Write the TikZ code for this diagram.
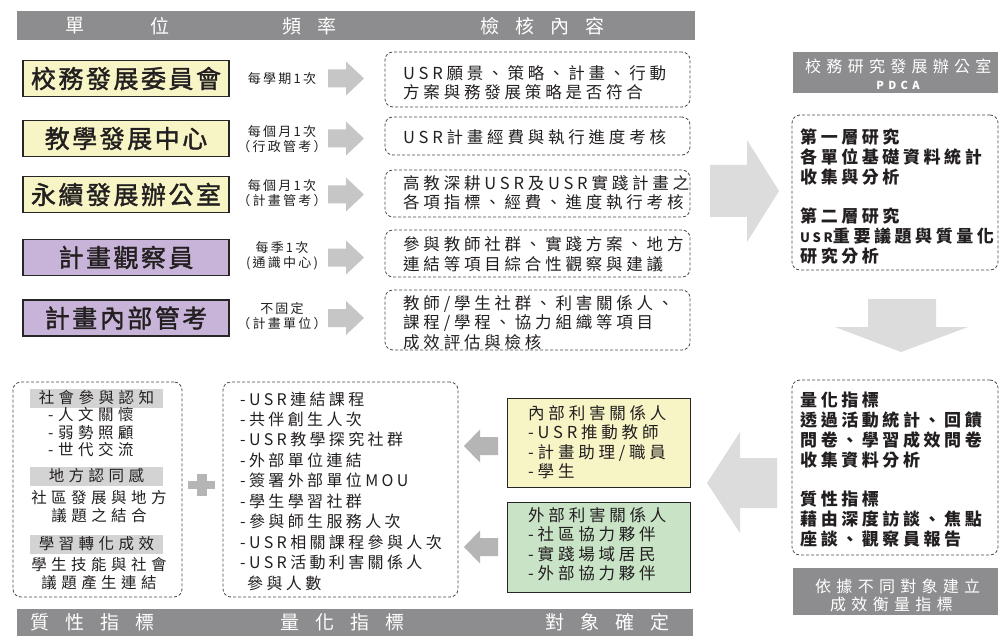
\documentclass[tikz,border=0pt]{standalone}
\usepackage{fontspec}
\setmainfont{Noto Sans CJK TC}
\newfontfamily\fbody[LetterSpace=23]{Noto Sans CJK TC}
\newfontfamily\fstake[LetterSpace=23]{Noto Sans CJK TC}
\newfontfamily\fitem[LetterSpace=21]{Noto Sans CJK TC}
\newfontfamily\ftitle[LetterSpace=10,FakeBold=1.5]{Noto Sans CJK TC}
\newfontfamily\fhead[LetterSpace=85]{Noto Sans CJK TC}
\newfontfamily\ffreq[LetterSpace=17]{Noto Sans CJK TC}
\newfontfamily\fpdca[LetterSpace=40]{Noto Sans CJK TC}
\newfontfamily\fsmall[LetterSpace=29]{Noto Sans CJK TC}
\newfontfamily\fright[LetterSpace=21]{Noto Sans CJK TC}
\newfontfamily\fwhite[LetterSpace=33]{Noto Sans CJK TC}
\definecolor{barg}{HTML}{8D8D8F}
\definecolor{lblg}{HTML}{D3D3D4}
\definecolor{arrl}{HTML}{DCDCDD}
\definecolor{arrm}{HTML}{C6C6C7}
\definecolor{arrd}{HTML}{B5B5B6}
\definecolor{yel}{HTML}{F7F5C6}
\definecolor{pur}{HTML}{C7B4D8}
\definecolor{grn}{HTML}{C8E3C6}
\definecolor{txt}{HTML}{231F20}
\definecolor{dash}{HTML}{4A4A4A}
\begin{document}
\begin{tikzpicture}[x=1pt,y=-1pt,
  bar/.style={fill=barg, draw=none, inner sep=0, anchor=north west},
  hd/.style={text=white, inner sep=0, anchor=west, font=\fontsize{19}{19}\fhead},
  ttl/.style={draw=black!85, line width=1.1pt, minimum width=206, minimum height=36, inner sep=0, text=txt, font=\fontsize{25}{25}\ftitle},
  freq/.style={align=center, inner sep=0, text=txt, font=\fontsize{13}{15}\ffreq},
  dbox/.style={draw=dash, line width=0.8pt, dash pattern=on 3pt off 2pt, rounded corners=8pt, inner sep=0},
  body/.style={align=left, inner sep=0, anchor=west, text=txt, font=\fontsize{16.5}{19.5}\fbody},
  rbody/.style={align=left, inner sep=0, anchor=west, text=txt, font=\fontsize{17}{20}\fright\bfseries},
  item/.style={align=left, inner sep=0, anchor=west, text=txt, font=\fontsize{16}{20.45}\fitem},
  stake/.style={align=left, inner sep=0, anchor=west, text=txt, font=\fontsize{16.5}{19.3}\fstake},
  sbox/.style={draw=black!85, line width=0.9pt, inner sep=0},
  lbl/.style={fill=lblg, minimum width=133, minimum height=19, inner sep=0, text=txt, font=\fontsize{15.5}{15.5}\fsmall},
  small/.style={inner sep=0, text=txt, font=\fontsize{15.5}{17.5}\fsmall},
  wt/.style={text=white, inner sep=0, font=\fontsize{16}{18}\fwhite}
]
\useasboundingbox (0,0) rectangle (1000,636);
\fill[white] (0,0) rectangle (1000,636);

% top header bar
\node[bar, minimum width=678, minimum height=29] (topbar) at (17,11) {};
\node[hd] (h1) at (65,26) {單};
\node[hd] (h2) at (150,26) {位};
\node[hd] (h3) at (282,26) {頻率};
\node[hd] (h4) at (480,26) {檢核內容};

% unit boxes
\node[ttl, fill=yel] (u1) at (126,78.5) {校務發展委員會};
\node[ttl, fill=yel] (u2) at (126,138.5) {教學發展中心};
\node[ttl, fill=yel] (u3) at (126,194.5) {永續發展辦公室};
\node[ttl, fill=pur] (u4) at (126,257.5) {計畫觀察員};
\node[ttl, fill=pur] (u5) at (126,318) {計畫內部管考};

% frequencies
\node[freq] (f1) at (282,78.5) {每學期1次};
\node[freq] (f2) at (282,139.5) {每個月1次\\（行政管考）};
\node[freq] (f3) at (282,193.5) {每個月1次\\（計畫管考）};
\node[freq] (f4) at (282,256) {每季1次\\(通識中心)};
\node[freq] (f5) at (282,316.5) {不固定\\（計畫單位）};

% row arrows
\foreach \yc in {78.5,138.5,194.5,257.5,318}
  \fill[arrm] (328,\yc-9) -- (346,\yc-9) -- (346,\yc-17) -- (364,\yc) -- (346,\yc+17) -- (346,\yc+9) -- (328,\yc+9) -- cycle;

% check boxes
\node[dbox, minimum width=305, minimum height=55] (c1) at (537.5,79.5) {};
\node[dbox, minimum width=305, minimum height=38] (c2) at (537.5,136) {};
\node[dbox, minimum width=305, minimum height=47] (c3) at (537.5,193.5) {};
\node[dbox, minimum width=305, minimum height=47] (c4) at (537.5,253.5) {};
\node[dbox, minimum width=305, minimum height=60] (c5) at (537.5,320) {};
\node[body] (t1) at (403,82.5) {USR願景、策略、計畫、行動\\方案與務發展策略是否符合};
\node[body] (t2) at (403,137) {USR計畫經費與執行進度考核};
\node[body] (t3) at (403,192.5) {高教深耕USR及USR實踐計畫之\\各項指標、經費、進度執行考核};
\node[body] (t4) at (403,254) {參與教師社群、實踐方案、地方\\連結等項目綜合性觀察與建議};
\node[body] (t5) at (403,322.5) {教師/學生社群、利害關係人、\\課程/學程、協力組織等項目\\成效評估與檢核};

% big right arrow
\fill[arrl] (710,165) -- (747,165) -- (747,140) -- (779,191) -- (747,242) -- (747,217) -- (710,217) -- cycle;

% right column top
\node[bar, minimum width=205, minimum height=41] (rhead) at (793,52) {};
\node[wt, anchor=west] (rh1) at (805,66) {校務研究發展辦公室};
\node[text=white, inner sep=0, font=\fontsize{11}{11}\fpdca\bfseries] (rh2) at (898,85) {PDCA};
\node[dbox, minimum width=206, minimum height=155] (r1) at (895,192.5) {};
\node[rbody] (r1t) at (800,196.5) {第一層研究\\各單位基礎資料統計\\收集與分析\\[19pt]第二層研究\\{\fontsize{13}{20}\selectfont USR}重要議題與質量化\\研究分析};

% down arrow
\fill[arrl] (868,299) -- (936,299) -- (936,327) -- (968,327) -- (901,352) -- (835,327) -- (868,327) -- cycle;

% right column bottom
\node[dbox, minimum width=206, minimum height=175] (r2) at (895,467.5) {};
\node[rbody] (r2t) at (800,470) {量化指標\\透過活動統計、回饋\\問卷、學習成效問卷\\收集資料分析\\[19pt]質性指標\\藉由深度訪談、焦點\\座談、觀察員報告};
\node[bar, minimum width=205, minimum height=47] (rfoot) at (793,568) {};
\node[wt, anchor=west] (rf1) at (815,586) {依據不同對象建立};
\node[wt, anchor=west] (rf2) at (830,604) {成效衡量指標};

% left arrow
\fill[arrl] (707,483) -- (740,432) -- (740,458) -- (777,458) -- (777,508) -- (740,508) -- (740,533) -- cycle;

% stakeholders
\node[sbox, fill=yel, minimum width=183, minimum height=89] (s1) at (598.5,442.5) {};
\node[sbox, fill=grn, minimum width=183, minimum height=90] (s2) at (598.5,547) {};
\node[stake] (s1t) at (528,442) {內部利害關係人\\-USR推動教師\\-計畫助理/職員\\-學生};
\node[stake] (s2t) at (528,544) {外部利害關係人\\-社區協力夥伴\\-實踐場域居民\\-外部協力夥伴};

% small left arrows
\foreach \yc in {446,547}
  \fill[arrd] (464,\yc) -- (480,\yc-16.5) -- (480,\yc-9) -- (498,\yc-9) -- (498,\yc+9) -- (480,\yc+9) -- (480,\yc+16.5) -- cycle;

% quantitative box
\node[dbox, minimum width=235, minimum height=215] (q) at (340.5,489.5) {};
\node[item] (qt) at (240,491) {-USR連結課程\\-共伴創生人次\\-USR教學探究社群\\-外部單位連結\\-簽署外部單位MOU\\-學生學習社群\\-參與師生服務人次\\-USR相關課程參與人次\\-USR活動利害關係人\\\hspace*{7pt}參與人數};

% plus sign
\fill[arrd] (188,481) rectangle (215,489);
\fill[arrd] (197,474) rectangle (207,496);

% qualitative box
\node[dbox, minimum width=169, minimum height=215] (p) at (97.5,489.5) {};
\node[lbl] (l1) at (96.5,398) {社會參與認知};
\node[small, align=left, anchor=west] (l1t) at (48,432.5) {-人文關懷\\-弱勢照顧\\-世代交流};
\node[lbl] (l2) at (96.5,476) {地方認同感};
\node[small, align=center, font=\fontsize{15.5}{18}\fsmall] (l2t) at (99,507) {社區發展與地方\\議題之結合};
\node[lbl] (l3) at (96.5,544) {學習轉化成效};
\node[small, align=center, font=\fontsize{15.5}{18}\fsmall] (l3t) at (99,574) {學生技能與社會\\議題產生連結};

% bottom bar
\node[bar, minimum width=676, minimum height=27] (botbar) at (17,609) {};
\node[hd] (b1) at (30,622.5) {質性指標};
\node[hd] (b2) at (280,622.5) {量化指標};
\node[hd] (b3) at (545,622.5) {對象確定};
\end{tikzpicture}
\end{document}
